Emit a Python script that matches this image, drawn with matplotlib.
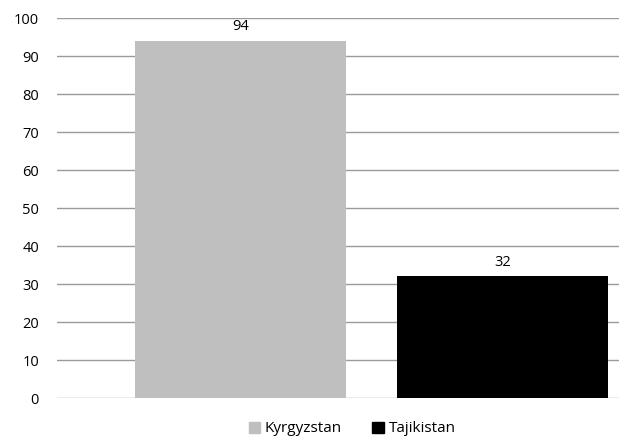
import matplotlib.pyplot as plt
import matplotlib.patches as mpatches

countries = ['Kyrgyzstan', 'Tajikistan']
values = [94, 32]
colors = ['#bfbfbf', '#000000']

plt.rcParams['font.family'] = ['Open Sans', 'DejaVu Sans']

fig = plt.figure(figsize=(6.19, 4.37), dpi=100)
ax = fig.add_axes([57 / 619, 39 / 437, 1 - 57 / 619, 380 / 437])

positions = list(range(len(countries)))
bars = ax.bar(positions, values, width=0.805, color=colors, zorder=3)
for rect, v in zip(bars, values):
    ax.text(rect.get_x() + rect.get_width() / 2, v + 1.8, str(v),
            ha='center', va='bottom', fontsize=10.5)

ax.set_ylim(0, 100)
ax.set_xlim(-0.70, 1.445)
ax.set_yticks(range(0, 101, 10))
ax.set_xticks([])
ax.yaxis.grid(True, color='#9a9a9a', linewidth=1.0, zorder=0)
ax.tick_params(axis='y', length=0, pad=13, labelsize=10.5)
for s in ax.spines.values():
    s.set_visible(False)

handles = [mpatches.Patch(color=c, label=n) for c, n in zip(colors, countries)]
fig.legend(handles=handles, loc='center', bbox_to_anchor=(352 / 619, 1 - 429 / 437),
           ncol=2, frameon=False, fontsize=11, handlelength=0.75, handleheight=0.75,
           handletextpad=0.3, columnspacing=2.0)

fig.savefig('out.png', dpi=100)
